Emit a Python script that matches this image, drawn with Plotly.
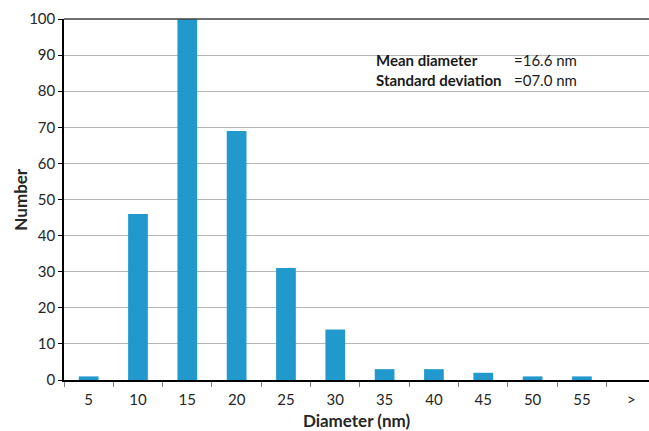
import plotly.graph_objects as go

categories = ["5", "10", "15", "20", "25", "30", "35", "40", "45", "50", "55", ">"]
counts = [1, 46, 100, 69, 31, 14, 3, 3, 2, 1, 1, 0]
y_ticks = [0, 10, 20, 30, 40, 50, 60, 70, 80, 90, 100]
stat_labels = ["Mean diameter", "Standard deviation"]
stat_values = ["=16.6 nm", "=07.0 nm"]

FONT = "Lato, 'Open Sans', sans-serif"

fig = go.Figure(go.Bar(x=categories, y=counts, marker_color="#2199cd", marker_line_width=0))

fig.update_layout(
    width=649, height=431,
    margin=dict(l=64, r=0, t=19, b=51, autoexpand=False),
    paper_bgcolor="white", plot_bgcolor="white",
    bargap=0.6,
    showlegend=False,
    font=dict(family=FONT, size=15, color="#262626"),
)
fig.update_xaxes(
    type="category", range=[-0.5, 11.36], automargin=False,
    showline=True, linecolor="black", linewidth=1.5,
    ticks="outside", tickson="boundaries", ticklen=5, tickcolor="#808080",
    ticklabelstandoff=5,
    showgrid=False,
    tickfont=dict(size=15, color="#262626"),
    title=dict(text="<b>Diameter (nm)</b>", font=dict(size=17, color="#262626"), standoff=10),
)
fig.update_yaxes(
    range=[0, 100], tickvals=y_ticks, automargin=False,
    showline=True, linecolor="black", linewidth=1.5,
    ticks="outside", ticklen=4, tickcolor="black",
    showgrid=True, gridcolor="#b5b5b5", gridwidth=1,
    zeroline=False,
    tickfont=dict(size=15, color="#262626"),
)
fig.add_annotation(xref="paper", yref="paper", x=-0.075, y=0.5, xanchor="center", yanchor="middle",
                   text="<b>Number</b>", textangle=-90, showarrow=False,
                   font=dict(size=17, color="#262626"))
# top border line
fig.add_shape(type="line", xref="paper", yref="paper", x0=0, x1=1, y0=1, y1=1,
              line=dict(color="#404040", width=1.5))

for i, (lab, val) in enumerate(zip(stat_labels, stat_values)):
    yy = 0.886 - i * 0.055
    fig.add_annotation(xref="paper", yref="paper", x=0.53, y=yy, xanchor="left", yanchor="middle",
                       text=f"<b>{lab}</b>", showarrow=False, font=dict(size=15, color="#1a1a1a"))
    fig.add_annotation(xref="paper", yref="paper", x=0.766, y=yy, xanchor="left", yanchor="middle",
                       text=val, showarrow=False, font=dict(size=15, color="#1a1a1a"))

fig.write_html("out.html", config={"displayModeBar": False},
               post_script="document.body.style.margin='0';document.body.style.overflow='hidden';")
